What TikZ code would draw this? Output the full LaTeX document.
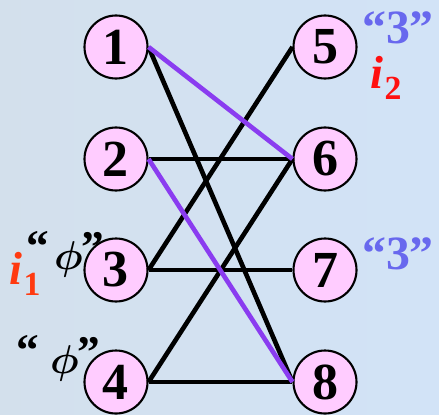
\documentclass[tikz,border=0pt]{standalone}
\usepackage{fontspec}
\setmainfont{Liberation Serif}
\usepackage{bm}
\usetikzlibrary{positioning}
\definecolor{mtBgL}{HTML}{D3E0EC}
\definecolor{mtBgM}{HTML}{F1F5FB}
\definecolor{mtBgR}{HTML}{D2E3F7}
\definecolor{mtNode}{HTML}{FFCCFF}
\definecolor{mtPath}{HTML}{8A3CF0}
\definecolor{mtNum}{HTML}{6868EE}
\definecolor{mtRed}{HTML}{FF1010}
\definecolor{mtOrange}{HTML}{FF3A10}
\tikzset{
  mt/.style={line width=1.5pt},
  vtx/.style={circle, draw=black, fill=mtNode, line width=1.5pt, minimum size=15.75mm, inner sep=0pt,
              font=\fontsize{37}{37}\selectfont\bfseries},
  edge/.style={draw=black, line width=3.3pt},
  aug/.style={draw=mtPath, line width=3.3pt},
  cnt/.style={text=mtNum, inner sep=0pt, font=\fontsize{34}{34}\selectfont\bfseries},
  idx/.style={inner sep=0pt, font=\fontsize{33}{33}\selectfont\bfseries\itshape},
  qlbl/.style={inner sep=0pt, font=\fontsize{28}{28}\selectfont\bfseries},
}
\newcommand{\idxsub}[2]{#1\kern1pt\raisebox{-8pt}{\fontsize{24}{24}\selectfont\upshape #2}}
\newcommand{\phiq}[1]{\raisebox{5pt}{“}\kern#1$\bm{\phi}$\kern-1pt\raisebox{4pt}{”}}

\begin{document}
\begin{tikzpicture}[mt]
\shade[left color=mtBgL, middle color=mtBgM, right color=mtBgR] (0,0) rectangle (10.975,10.35);
\useasboundingbox (0,0) rectangle (10.975,10.35);

\foreach \i/\y in {1/9.175, 2/6.375, 3/3.6, 4/0.8} \node[vtx] (v\i) at (2.9,\y) {\i};
\foreach \i/\y in {5/9.175, 6/6.375, 7/3.6, 8/0.8} \node[vtx] (v\i) at (8.125,\y) {\i};

\foreach \a/\b in {1/8, 2/6, 3/5, 3/7, 4/6, 4/8} \draw[edge] (v\a.east) -- (v\b.west);
\foreach \a/\b in {1/6, 2/8} \draw[aug] (v\a.east) -- (v\b.west);

\node[cnt] (c5) at (9.95,9.66) {“3”};
\node[cnt] (c7) at (9.95,4.0) {“3”};
\node[idx, text=mtRed] (i2) at (9.65,8.4) {\idxsub{i}{2}};
\node[idx, text=mtOrange] (i1) at (0.62,3.5) {\idxsub{i}{1}};
\node[qlbl, scale=1.15] (p3) at (1.63,4.0) {\phiq{3pt}};
\node[qlbl, scale=1.15] (p4) at (1.45,1.38) {\phiq{7pt}};
\end{tikzpicture}
\end{document}
